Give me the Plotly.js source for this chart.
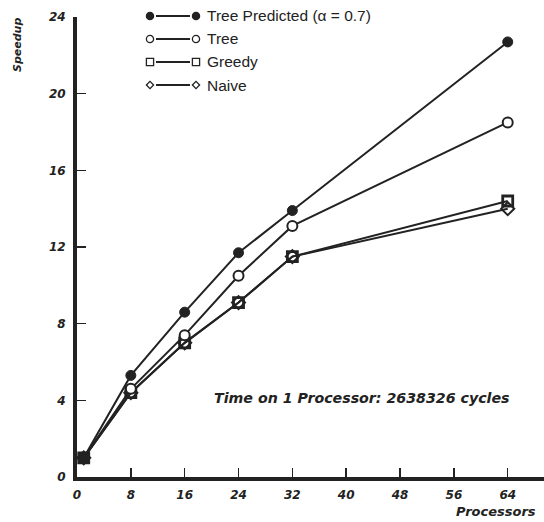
<!DOCTYPE html>
<html>
<head>
<meta charset="utf-8">
<script src="https://cdn.plot.ly/plotly-3.0.1.min.js"></script>
<style>html,body{margin:0;padding:0;background:#fff;}#chart{width:544px;height:522px;}</style>
</head>
<body>
<div id="chart"></div>
<script>
const processors = [1, 8, 16, 24, 32, 64];
const treePredicted = [1.0, 5.3, 8.6, 11.7, 13.9, 22.7];
const tree = [1.0, 4.6, 7.4, 10.5, 13.1, 18.5];
const greedy = [1.0, 4.4, 7.0, 9.1, 11.5, 14.4];
const naive = [1.0, 4.4, 7.0, 9.1, 11.5, 14.0];
const xTicks = [0, 8, 16, 24, 32, 40, 48, 56, 64];
const yTicks = [0, 4, 8, 12, 16, 20, 24];
const seriesNames = ['Tree Predicted (\u03b1 = 0.7)', 'Tree', 'Greedy', 'Naive'];
const noteText = 'Time on 1 Processor: 2638326 cycles';

const ink = '#222222';
const lineStyle = {color: ink, width: 2};
const traces = [
  {x: processors, y: naive, mode: 'lines+markers', line: lineStyle,
   marker: {symbol: 'diamond-open', size: 10, color: ink, line: {width: 2, color: ink}}},
  {x: processors, y: greedy, mode: 'lines+markers', line: lineStyle,
   marker: {symbol: 'square-open', size: 10, color: ink, line: {width: 2.8, color: ink}}},
  {x: processors, y: tree, mode: 'lines+markers', line: lineStyle,
   marker: {symbol: 'circle', size: 10, color: '#fff', line: {width: 2, color: ink}}},
  {x: processors, y: treePredicted, mode: 'lines+markers', line: lineStyle,
   marker: {symbol: 'circle', size: 10, color: ink, line: {width: 1, color: ink}}}
];
traces.forEach((t, i) => { t.name = seriesNames[3 - i]; t.showlegend = false; t.cliponaxis = false; });

const W = 544, H = 522, ml = 77, mr = 0, mt = 17, mb = 45;
const pw = W - ml - mr, ph = H - mt - mb;
const px = v => (v - ml) / pw;
const py = v => (H - mb - v) / ph;

// custom legend: marker — line — marker, then label
const legendRows = [16, 39, 62, 85];
const legendSymbols = ['filled', 'open', 'square', 'diamond'];
const shapes = [];
const annotations = [];
legendRows.forEach((r, i) => {
  const xl = 150, xr = 196, s = 3.6;
  shapes.push({type: 'line', xref: 'paper', yref: 'paper', x0: px(xl + 6), x1: px(xr - 6), y0: py(r), y1: py(r), line: {color: ink, width: 2.2}});
  [xl, xr].forEach(c => {
    const sym = legendSymbols[i];
    if (sym === 'filled' || sym === 'open') {
      shapes.push({type: 'circle', xref: 'paper', yref: 'paper', x0: px(c - s), x1: px(c + s), y0: py(r + s), y1: py(r - s),
        fillcolor: sym === 'filled' ? ink : '#fff', line: {color: ink, width: 1.3}});
    } else if (sym === 'square') {
      shapes.push({type: 'rect', xref: 'paper', yref: 'paper', x0: px(c - s), x1: px(c + s), y0: py(r + s), y1: py(r - s),
        fillcolor: '#fff', line: {color: ink, width: 1.3}});
    } else {
      shapes.push({type: 'path', xref: 'paper', yref: 'paper',
        path: 'M ' + px(c - s) + ' ' + py(r) + ' L ' + px(c) + ' ' + py(r - s) + ' L ' + px(c + s) + ' ' + py(r) + ' L ' + px(c) + ' ' + py(r + s) + ' Z',
        fillcolor: '#fff', line: {color: ink, width: 1.3}});
    }
  });
  annotations.push({xref: 'paper', yref: 'paper', x: px(205), y: py(r), xanchor: 'left', yanchor: 'middle', showarrow: false,
    text: seriesNames[i], font: {family: 'Liberation Sans, Arial, sans-serif', size: 15.5, color: ink}});
});

const heavy = (size) => ({family: 'DejaVu Sans, sans-serif', size: size, color: ink, weight: 'bold', style: 'italic'});

annotations.push({xref: 'x', yref: 'y', x: 42.3, y: 4.1, xanchor: 'center', yanchor: 'middle', showarrow: false,
  text: noteText, font: heavy(14.2)});
annotations.push({xref: 'paper', yref: 'paper', x: px(454), y: py(511), xanchor: 'left', yanchor: 'middle', showarrow: false,
  text: 'Processors', font: heavy(13)});
annotations.push({xref: 'paper', yref: 'paper', x: px(18), y: py(45), xanchor: 'center', yanchor: 'middle', showarrow: false,
  textangle: -90, text: 'Speedup', font: heavy(11)});

const layout = {
  width: W, height: H,
  margin: {l: ml, r: mr, t: mt, b: mb, pad: 0},
  paper_bgcolor: '#fff', plot_bgcolor: '#fff',
  showlegend: false,
  xaxis: {range: [0, pw / 6.73], tickvals: xTicks, ticktext: xTicks.map(String), showgrid: false, zeroline: false,
    showline: true, linewidth: 4, linecolor: ink, ticks: 'inside', ticklen: 9, tickwidth: 1.5, tickcolor: ink,
    tickfont: heavy(12), fixedrange: true, ticklabelstandoff: 4},
  yaxis: {range: [0, 24], tickvals: yTicks, ticktext: yTicks.map(String), showgrid: false, zeroline: false,
    showline: true, linewidth: 4, linecolor: ink, ticks: 'inside', ticklen: 9, tickwidth: 1.5, tickcolor: ink,
    tickfont: heavy(12), fixedrange: true, ticklabelstandoff: 5},
  shapes: shapes,
  annotations: annotations
};

Plotly.newPlot('chart', traces, layout, {displayModeBar: false, staticPlot: true});
</script>
</body>
</html>
